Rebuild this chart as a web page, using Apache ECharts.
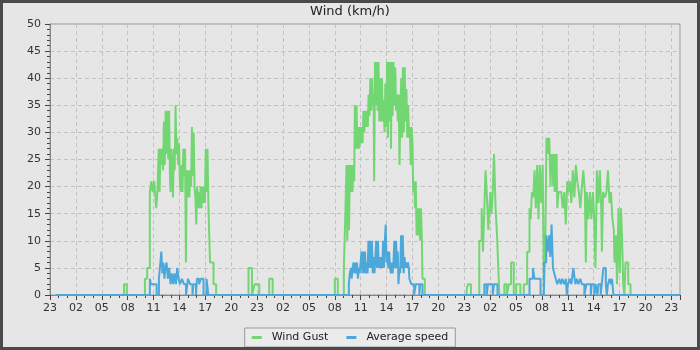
<!DOCTYPE html>
<html><head><meta charset="utf-8">
<script src="https://cdn.jsdelivr.net/npm/echarts@6/dist/echarts.min.js"></script>
<style>html,body{margin:0;padding:0;background:#e6e6e6}#c{width:700px;height:350px}</style>
</head><body><div id="c"></div>
<script>
// Time axis: hours elapsed since 23:00 on the first day
const xTickLabels = ['23','02','05','08','11','14','17','20','23','02','05','08','11','14','17','20','23','02','05','08','11','14','17','20','23'];
const seriesNames = ['Wind Gust', 'Average speed'];

// [hours since start, km/h] — Wind Gust
const gustDay1 = [
[0.7,0],[8.58,2],[8.9,0],
[11.0,3],[11.26,5],[11.57,19],[11.74,21],[11.9,19],[12.07,21],[12.17,19],[12.3,16],[12.45,19],[12.6,27],[12.7,19],[12.8,27],[12.9,24],[13.0,27],[13.1,23],[13.2,32],[13.3,24],[13.4,34],[13.5,26],[13.6,34],[13.7,25],[13.8,34],[13.9,22],[13.97,19],[14.07,27],[14.17,22],[14.25,18],[14.35,27],[14.45,23],[14.55,35],[14.65,26],[14.75,29],[14.85,24],[14.95,28],[15.05,21],[15.15,19],[15.25,24],[15.35,19],[15.45,27],[15.55,22],[15.65,27],[15.75,6],[15.85,23],[15.95,18],[16.05,23],[16.15,18],[16.25,23],[16.35,20],[16.45,31],[16.55,22],[16.65,30],[16.75,20],[16.85,18],[16.95,13],[17.05,20],[17.15,16],[17.25,19],[17.35,16],[17.45,20],[17.55,16],[17.65,20],[17.75,17],[17.85,20],[17.95,17],[18.05,27],[18.15,19],[18.25,27],[18.35,17],[18.45,11],[18.55,6],[18.95,2],[19.25,0],
[23.0,5],[23.4,0],[23.58,1],[23.7,2],[24.25,0],[25.4,3],[25.8,0]
];
const gustDay2 = [
[33.0,3],[33.35,0],
[34.05,5],[34.24,16],[34.36,24],[34.45,10],[34.55,24],[34.65,12],[34.75,24],[34.85,19],[34.95,24],[35.05,19],[35.15,24],[35.25,21],[35.33,35],[35.43,27],[35.52,35],[35.62,27],[35.72,31],[35.82,27],[35.92,31],[36.02,28],[36.12,31],[36.22,28],[36.32,34],[36.42,30],[36.52,34],[36.62,31],[36.72,34],[36.82,31],[36.92,37],[37.02,33],[37.12,40],[37.22,34],[37.32,40],[37.42,35],[37.5,37],[37.56,21],[37.66,43],[37.76,35],[37.86,43],[37.96,34],[38.06,43],[38.16,32],[38.26,40],[38.36,32],[38.46,40],[38.56,32],[38.66,36],[38.76,30],[38.86,39],[38.96,31],[39.06,43],[39.16,29],[39.26,43],[39.36,32],[39.46,43],[39.51,27],[39.6,43],[39.7,33],[39.8,43],[39.9,35],[40.0,42],[40.1,34],[40.2,37],[40.3,32],[40.4,37],[40.5,24],[40.6,34],[40.7,40],[40.8,29],[40.9,42],[41.0,30],[41.1,42],[41.2,32],[41.3,38],[41.4,29],[41.5,35],[41.6,29],[41.7,31],[41.8,24],[41.9,31],[42.0,28],[42.09,19],[42.2,21],[42.3,16],[42.38,21],[42.48,11],[42.58,16],[42.68,11],[42.78,16],[42.88,10],[42.98,16],[43.08,11],[43.16,3],[43.43,0],
[48.28,1],[48.43,2],[48.78,0]
];
const gustDay3 = [
[49.74,10],[50.02,16],[50.17,8],[50.33,16],[50.47,23],[50.6,19],[50.79,12],[51.02,19],[51.16,15],[51.3,19],[51.45,26],[51.63,16],[51.8,11],[51.92,6],[52.07,0],
[52.65,2],[52.93,0],[53.16,2],[53.43,6],[53.74,0],[54.01,2],[54.5,0],[54.9,2],
[55.29,8],[55.56,16],[55.7,14],[55.84,19],[55.99,18],[56.14,23],[56.29,16],[56.45,24],[56.6,14],[56.76,24],[56.92,17],[57.09,24],[57.24,1],[57.38,8],[57.53,29],[57.62,26],[57.7,29],[57.78,26],[57.85,29],[57.93,24],[58.0,20],[58.08,26],[58.15,22],[58.23,26],[58.31,20],[58.39,26],[58.47,19],[58.55,26],[58.62,19],[58.7,26],[58.78,16],[58.93,19],[59.08,19],[59.24,19],[59.42,16],[59.59,19],[59.77,13],[59.94,21],[60.09,19],[60.23,21],[60.41,17],[60.58,23],[60.76,18],[60.93,24],[61.1,21],[61.28,19],[61.45,16],[61.63,20],[61.8,23],[61.98,19],[62.09,6],[62.21,19],[62.38,14],[62.56,19],[62.73,14],[62.91,19],[63.06,14],[63.2,5],[63.37,23],[63.55,17],[63.72,23],[63.87,16],[63.95,8],[64.09,19],[64.28,18],[64.48,19],[64.65,23],[64.83,17],[65.0,19],[65.17,14],[65.33,12],[65.41,6],[65.58,11],[65.7,2],[65.87,16],[66.02,4],[66.16,16],[66.28,11],[66.42,2],[66.55,0],[66.69,6],[67.0,2],[67.27,0],
[73,0]
];

// [hours since start, km/h] — Average speed
const avgDay1 = [
[0.7,0],[11.57,3],[11.7,2],[12.35,0],[12.62,3],[12.79,6],[12.9,8],[13.02,4],[13.14,6],[13.26,3],[13.37,5],[13.51,6],[13.66,3],[13.81,5],[13.97,2],[14.13,4],[14.28,2],[14.43,4],[14.59,2],[14.74,5],[14.9,3],[15.06,2],[15.29,3],[15.52,2],[15.76,0],[15.99,3],[16.22,2],[16.51,0],[16.63,2],[16.92,0],[17.03,3],[17.27,2],[17.5,3],[17.79,0],[18.14,3],[18.35,0]
];
const avgDay2 = [
[34.63,2],[34.74,4],[34.86,5],[34.96,3],[35.06,5],[35.17,6],[35.27,4],[35.37,6],[35.48,4],[35.58,6],[35.68,3],[35.79,5],[35.89,4],[35.99,6],[36.1,8],[36.2,4],[36.3,8],[36.4,4],[36.5,8],[36.6,4],[36.7,6],[36.8,4],[36.9,10],[37.0,5],[37.1,10],[37.2,5],[37.3,10],[37.4,4],[37.5,7],[37.6,4],[37.7,7],[37.8,10],[37.9,5],[38.0,10],[38.1,5],[38.2,7],[38.3,5],[38.4,7],[38.5,5],[38.6,10],[38.7,5],[38.8,10],[38.9,13],[39.0,6],[39.1,8],[39.2,5],[39.3,8],[39.4,5],[39.5,4],[39.6,6],[39.7,4],[39.8,6],[39.9,10],[40.0,5],[40.1,10],[40.2,5],[40.3,8],[40.38,2],[40.48,5],[40.58,4],[40.68,11],[40.78,5],[40.88,11],[40.98,4],[41.08,7],[41.18,5],[41.28,6],[41.38,5],[41.48,6],[41.58,5],[41.64,3],[41.87,2],[42.19,0],[42.38,2],[42.8,0],[42.88,2],[43.16,0]
];
const avgDay3 = [
[50.33,2],[50.6,0],[50.75,2],[51.3,0],[51.45,2],[51.85,0],
[55.56,3],[55.95,5],[56.14,3],[56.84,0],[57.23,6],[57.5,11],[57.67,8],[57.83,11],[57.97,7],[58.12,13],[58.28,5],[58.43,4],[58.6,3],[58.78,2],[59.01,3],[59.19,2],[59.36,3],[59.59,2],[59.78,3],[59.88,0],[60.02,2],[60.23,3],[60.41,2],[60.64,5],[60.87,2],[61.05,3],[61.22,2],[61.45,3],[61.63,2],[61.92,0],[62.15,2],[62.67,0],[62.77,2],[63.08,0],[63.23,2],[63.43,0],[63.55,2],[63.81,0],[63.93,2],[64.13,5],[64.4,2],[64.52,0],[64.65,2],[64.83,3],[65.0,2],[65.12,3],[65.29,0],[73,0]
];

const gustData = gustDay1.concat(gustDay2, gustDay3);
const avgData = avgDay1.concat(avgDay2, avgDay3);

const GREEN = '#72d672';
const BLUE = '#4ca8db';
const FONT = 'DejaVu Sans';

const chart = echarts.init(document.getElementById('c'), null, {renderer: 'canvas'});
chart.setOption({
  animation: false,
  backgroundColor: '#e6e6e6',
  textStyle: {fontFamily: FONT},
  title: {
    text: 'Wind (km/h)', left: 'center', top: 5, padding: 0,
    textStyle: {fontSize: 13, fontWeight: 'normal', color: '#222', fontFamily: FONT}
  },
  legend: {
    data: seriesNames, bottom: 3, left: 'center', icon: 'rect',
    itemWidth: 10, itemHeight: 3, itemGap: 18, padding: [4, 7, 4, 7],
    borderColor: '#9a9a9a', borderWidth: 1, backgroundColor: '#ebebeb',
    textStyle: {fontSize: 11, color: '#222', fontFamily: FONT, padding: [0, 0, 0, 5]}
  },
  grid: {left: 50, right: 20, top: 24, bottom: 55, show: true, borderColor: '#999', borderWidth: 1, backgroundColor: 'transparent'},
  xAxis: {
    type: 'value', min: 0, max: 73, interval: 3,
    axisLine: {show: true, lineStyle: {color: '#888'}},
    axisTick: {show: true, length: 5, lineStyle: {color: '#444'}},
    minorTick: {show: true, splitNumber: 3, length: 3, lineStyle: {color: '#444'}},
    splitLine: {show: true, lineStyle: {color: '#c2c2c2', type: [4, 3]}},
    minorSplitLine: {show: false},
    axisLabel: {
      fontSize: 11, color: '#333', margin: 8, showMaxLabel: false, fontFamily: FONT,
      formatter: function (v) {
        if (Math.abs(v / 3 - Math.round(v / 3)) > 1e-6) return '';
        const s = xTickLabels[Math.round(v / 3)];
        return s === undefined ? '' : s;
      }
    }
  },
  yAxis: {
    type: 'value', min: 0, max: 50, interval: 5,
    axisLine: {show: true, lineStyle: {color: '#888'}},
    axisTick: {show: true, length: 5, lineStyle: {color: '#444'}},
    minorTick: {show: true, splitNumber: 5, length: 3, lineStyle: {color: '#444'}},
    splitLine: {show: true, lineStyle: {color: '#c2c2c2', type: [4, 3]}},
    axisLabel: {fontSize: 11, color: '#333', margin: 9, fontFamily: FONT}
  },
  series: [
    {name: seriesNames[0], type: 'line', step: 'end', data: gustData, showSymbol: false, symbol: 'none',
     lineStyle: {width: 2, color: GREEN}, itemStyle: {color: GREEN}, z: 2},
    {name: seriesNames[1], type: 'line', step: 'end', data: avgData, showSymbol: false, symbol: 'none',
     lineStyle: {width: 2, color: BLUE}, itemStyle: {color: BLUE}, z: 3}
  ],
  graphic: [{type: 'rect', silent: true, z: 100, shape: {x: 1.5, y: 1.5, width: 697, height: 347},
    style: {fill: 'none', stroke: '#4a4a4a', lineWidth: 3}}]
});
</script>
</body></html>
